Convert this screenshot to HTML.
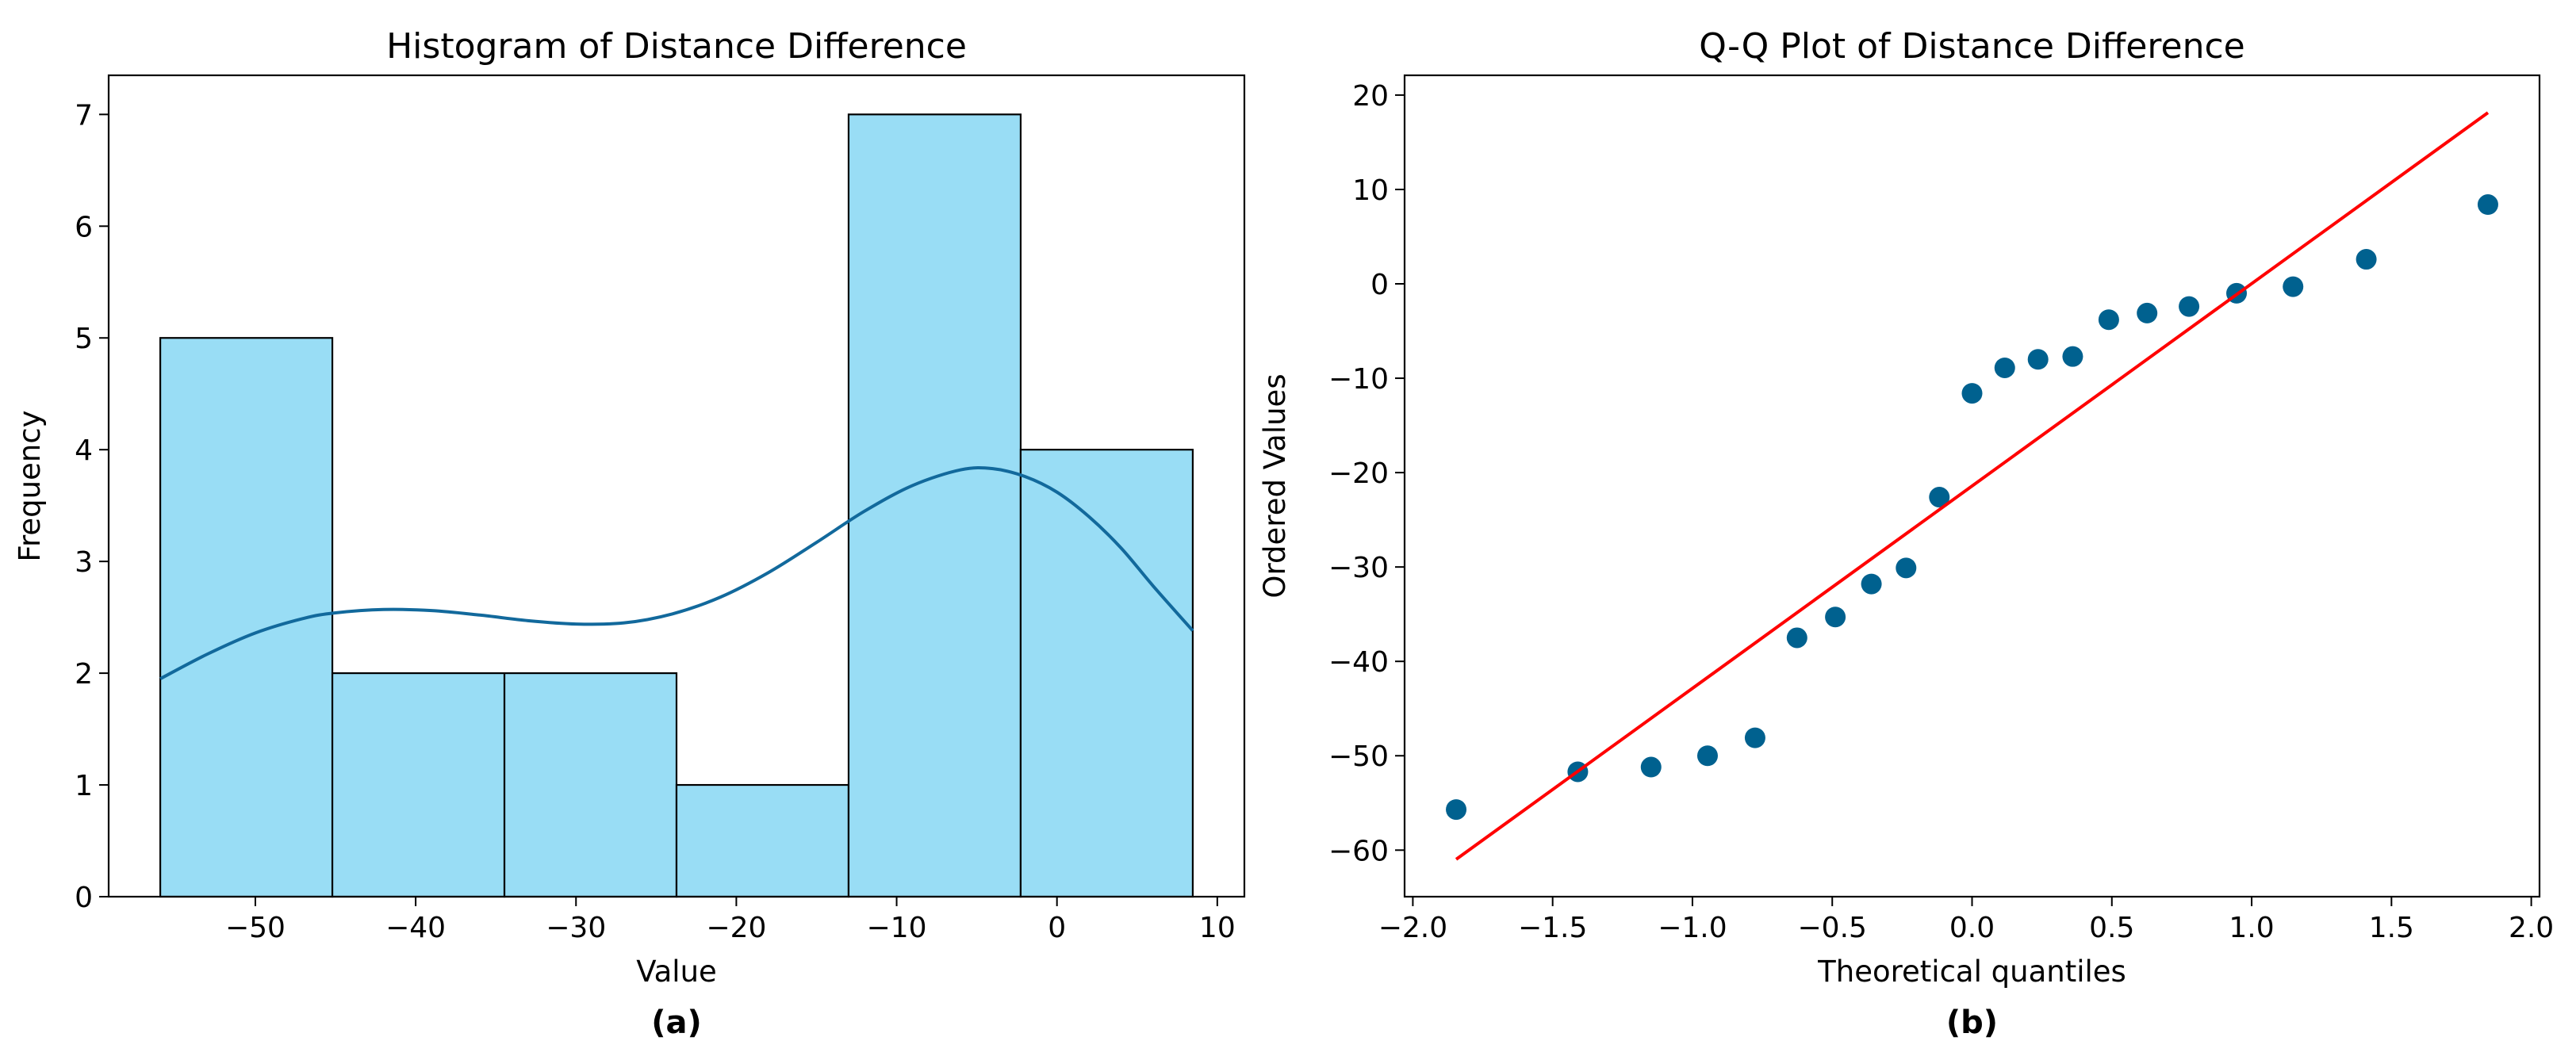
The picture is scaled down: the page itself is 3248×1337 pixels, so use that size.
<!DOCTYPE html>
<html><head><meta charset="utf-8"><style>
html,body{margin:0;padding:0;background:#fff;}
svg text{font-family:"DejaVu Sans","Liberation Sans",sans-serif;fill:#000;}
</style></head><body>
<svg id="fig" xmlns="http://www.w3.org/2000/svg" width="3248" height="1332" viewBox="0 0 3248 1332">
<rect width="3248" height="1332" fill="#fff"/>
<g id="histG"></g>
<g id="qqG"></g>
</svg>
<script>
// Histogram data
const binEdgeMin = -55.93;
const binEdgeMax = 8.47;
const binCounts = [5, 2, 2, 1, 7, 4];
const histXTicks = [-50, -40, -30, -20, -10, 0, 10];
const histYTicks = [0, 1, 2, 3, 4, 5, 6, 7];
const kdeX = [-55.93, -53, -50, -47, -45, -42, -39, -36, -33, -30, -27, -24, -21, -18, -15, -12, -9, -6, -4, -2, 0, 2, 4, 6, 8.47];
const kdeY = [1.95, 2.17, 2.36, 2.49, 2.54, 2.57, 2.56, 2.52, 2.47, 2.44, 2.45, 2.53, 2.68, 2.9, 3.17, 3.45, 3.68, 3.82, 3.83, 3.76, 3.62, 3.4, 3.12, 2.78, 2.38];
// Q-Q data
const qqTheoretical = [-1.845, -1.41, -1.148, -0.946, -0.776, -0.626, -0.489, -0.36, -0.236, -0.117, 0, 0.117, 0.236, 0.36, 0.489, 0.626, 0.776, 0.946, 1.148, 1.41, 1.845];
const qqOrdered = [-55.7, -51.7, -51.2, -50.0, -48.1, -37.5, -35.3, -31.8, -30.1, -22.6, -11.6, -8.9, -8.0, -7.7, -3.8, -3.1, -2.4, -1.0, -0.3, 2.6, 8.4];
const qqXTicks = [-2.0, -1.5, -1.0, -0.5, 0.0, 0.5, 1.0, 1.5, 2.0];
const qqYTicks = [-60, -50, -40, -30, -20, -10, 0, 10, 20];

const NS = "http://www.w3.org/2000/svg";
function mk(parent, tag, attrs, text) {
  const e = document.createElementNS(NS, tag);
  for (const k in attrs) e.setAttribute(k, attrs[k]);
  if (text !== undefined) e.textContent = text;
  parent.appendChild(e);
  return e;
}
function fmt(v, d) { const s = v.toFixed(d); return s.replace('-', '\u2212'); }

function axes(g, L, R, T, B, xs, ys, xt, yt, dec, title, xl, yl, yx, sub, names) {
  xt.forEach(v => {
    const x = xs(v);
    const t = mk(g, 'line', {x1: x, x2: x, y1: B, y2: B + 12, stroke: '#000', 'stroke-width': 2});
    
    
    const l = mk(g, 'text', {x: x, y: B + 51, 'font-size': 36, 'text-anchor': 'middle'}, fmt(v, dec));
    
    
  });
  yt.forEach(v => {
    const y = ys(v);
    const t = mk(g, 'line', {x1: L - 12, x2: L, y1: y, y2: y, stroke: '#000', 'stroke-width': 2});
    
    
    const l = mk(g, 'text', {x: L - 20, y: y + 13, 'font-size': 36, 'text-anchor': 'end'}, fmt(v, 0));
    
    
  });
  const fr = mk(g, 'rect', {x: L, y: T, width: R - L, height: B - T, fill: 'none', stroke: '#000', 'stroke-width': 2.2});
  
  
  const cx = (L + R) / 2;
  const ti = mk(g, 'text', {x: cx, y: 73, 'font-size': 44, 'text-anchor': 'middle'}, title);
  
  
  const xa = mk(g, 'text', {x: cx, y: 1238, 'font-size': 37, 'text-anchor': 'middle'}, xl);
  
  
  const ya = mk(g, 'text', {x: yx, y: (T + B) / 2, 'font-size': 37, 'text-anchor': 'middle', transform: 'rotate(-90 ' + yx + ' ' + (T + B) / 2 + ')'}, yl);
  
  
  const sb = mk(g, 'text', {x: cx, y: 1303, 'font-size': 40, 'font-weight': 'bold', 'text-anchor': 'middle'}, sub);
  
  
}

// Histogram panel
(function () {
  const g = document.getElementById('histG');
  const L = 137, R = 1569, T = 95, B = 1131;
  const range = binEdgeMax - binEdgeMin;
  const x0 = binEdgeMin - range * 0.05, x1 = binEdgeMax + range * 0.05;
  const ymax = Math.max(...binCounts) * 1.05;
  const xs = v => L + (v - x0) / (x1 - x0) * (R - L);
  const ys = v => B - v / ymax * (B - T);
  const w = range / binCounts.length;
  binCounts.forEach((c, i) => {
    const a = binEdgeMin + i * w, b = a + w;
    const r = mk(g, 'rect', {x: xs(a), y: ys(c), width: xs(b) - xs(a), height: ys(0) - ys(c), fill: '#99ddf5', stroke: '#000', 'stroke-width': 2.2});
    
    
  });
  const pts = kdeX.map((v, i) => [xs(v), ys(kdeY[i])]);
  let d = 'M' + pts[0][0] + ',' + pts[0][1];
  for (let i = 0; i < pts.length - 1; i++) {
    const p0 = pts[Math.max(0, i - 1)], p1 = pts[i], p2 = pts[i + 1], p3 = pts[Math.min(pts.length - 1, i + 2)];
    const c1 = [p1[0] + (p2[0] - p0[0]) / 6, p1[1] + (p2[1] - p0[1]) / 6];
    const c2 = [p2[0] - (p3[0] - p1[0]) / 6, p2[1] - (p3[1] - p1[1]) / 6];
    d += ' C' + c1 + ' ' + c2 + ' ' + p2;
  }
  const k = mk(g, 'path', {d: d, fill: 'none', stroke: '#12699c', 'stroke-width': 4});
  
  
  axes(g, L, R, T, B, xs, ys, histXTicks, histYTicks, 0, 'Histogram of Distance Difference', 'Value', 'Frequency', 50, '(a)', 'histogram');
})();

// Q-Q panel
(function () {
  const g = document.getElementById('qqG');
  const L = 1771, R = 3202, T = 95, B = 1131;
  const n = qqTheoretical.length;
  const mx = qqTheoretical.reduce((a, b) => a + b, 0) / n;
  const my = qqOrdered.reduce((a, b) => a + b, 0) / n;
  let sxy = 0, sxx = 0;
  for (let i = 0; i < n; i++) { sxy += (qqTheoretical[i] - mx) * (qqOrdered[i] - my); sxx += (qqTheoretical[i] - mx) ** 2; }
  const slope = sxy / sxx, icpt = my - slope * mx;
  const tmin = Math.min(...qqTheoretical), tmax = Math.max(...qqTheoretical);
  const xr = tmax - tmin;
  const x0 = tmin - xr * 0.05, x1 = tmax + xr * 0.05;
  const lo = Math.min(...qqOrdered, slope * tmin + icpt), hi = Math.max(...qqOrdered, slope * tmax + icpt);
  const yr = hi - lo;
  const y0 = lo - yr * 0.05, y1 = hi + yr * 0.05;
  const xs = v => L + (v - x0) / (x1 - x0) * (R - L);
  const ys = v => B - (v - y0) / (y1 - y0) * (B - T);
  qqTheoretical.forEach((t, i) => {
    const c = mk(g, 'circle', {cx: xs(t), cy: ys(qqOrdered[i]), r: 13, fill: '#00618f'});
    
    
  });
  const ln = mk(g, 'line', {x1: xs(tmin), y1: ys(slope * tmin + icpt), x2: xs(tmax), y2: ys(slope * tmax + icpt), stroke: '#ff0000', 'stroke-width': 4});
  
  
  axes(g, L, R, T, B, xs, ys, qqXTicks, qqYTicks, 1, 'Q-Q Plot of Distance Difference', 'Theoretical quantiles', 'Ordered Values', 1620, '(b)', 'qq-plot');
})();
</script>
</body></html>
